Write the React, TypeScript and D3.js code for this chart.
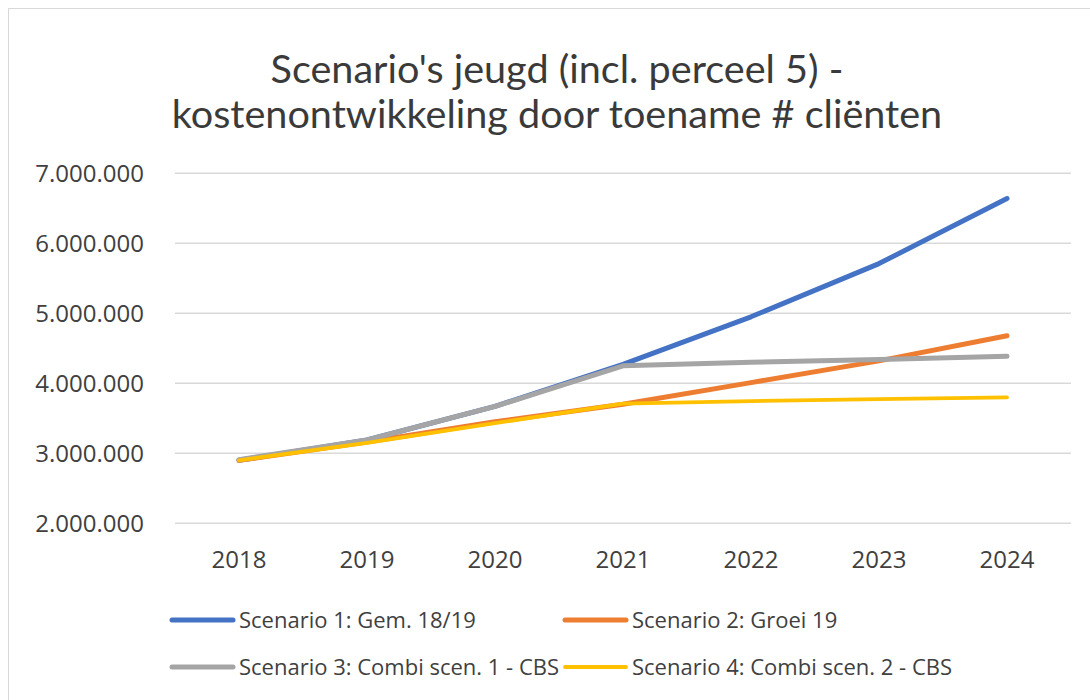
import React, { useEffect } from "react";
import * as d3 from "d3";

const years = ["2018", "2019", "2020", "2021", "2022", "2023", "2024"];
const scenario1 = [2900000, 3190000, 3670000, 4270000, 4950000, 5710000, 6640000];
const scenario2 = [2900000, 3160000, 3450000, 3700000, 4010000, 4320000, 4680000];
const scenario3 = [2910000, 3190000, 3670000, 4250000, 4300000, 4340000, 4385000];
const scenario4 = [2900000, 3150000, 3430000, 3710000, 3745000, 3775000, 3800000];
const seriesNames = [
  "Scenario 1: Gem. 18/19",
  "Scenario 2: Groei 19",
  "Scenario 3: Combi scen. 1 - CBS",
  "Scenario 4: Combi scen. 2 - CBS",
];
const yTicks = [2000000, 3000000, 4000000, 5000000, 6000000, 7000000];
const titleLines = ["Scenario's jeugd (incl. perceel 5) -", "kostenontwikkeling door toename # cliënten"];

const colors = ["#4472C4", "#ED7D31", "#A5A5A5", "#FFC000"];
const widths = [5, 5, 5, 3.8];
const TITLE_FONT = "Lato, 'Open Sans', sans-serif";
const FONT = "'Open Sans', 'Noto Sans', sans-serif";

export default function App() {
  useEffect(() => {
    document.body.style.margin = "0";
  }, []);
  const W = 1090, H = 700;
  const left = 175, right = 1071, top = 173.3, bottom = 523.3;
  const x = d3.scaleBand().domain(years).range([left, right]);
  const y = d3.scaleLinear().domain([2000000, 7000000]).range([bottom, top]);
  const fmt = (v: number) => d3.format(",")(v).replace(/,/g, ".");
  const line = d3
    .line<number>()
    .x((_, i) => (x(years[i]) as number) + x.bandwidth() / 2)
    .y((d) => y(d));
  const data = [scenario1, scenario2, scenario3, scenario4];
  const legendPos = [
    [170, 620],
    [563, 620],
    [170, 667],
    [563, 667],
  ];
  return (
    <svg width={W} height={H} style={{ position: "absolute", left: 0, top: 0 }} fontFamily={FONT}>
      <rect x={0} y={0} width={W} height={H} fill="#fff" />
      <rect x={8.5} y={8.5} width={W + 10} height={H + 10} fill="none" stroke="#d9d9d9" strokeWidth={1} />
      {titleLines.map((t, i) => (
        <text key={i} x={557} y={83 + i * 45} textAnchor="middle" fontSize={39.6} fill="#3a3a3a" fontFamily={TITLE_FONT}>
          {t}
        </text>
      ))}
      {yTicks.map((t) => (
        <g key={t}>
          <line x1={left} x2={right} y1={y(t)} y2={y(t)} stroke="#d9d9d9" strokeWidth={1.5} />
          <text x={144} y={y(t)} dy="0.36em" textAnchor="end" fontSize={24} fill="#404040">
            {fmt(t)}
          </text>
        </g>
      ))}
      {years.map((yr) => (
        <text key={yr} x={(x(yr) as number) + x.bandwidth() / 2} y={568} textAnchor="middle" fontSize={24} fill="#404040">
          {yr}
        </text>
      ))}
      {data.map((d, i) => (
        <path key={i} d={line(d) || ""} fill="none" stroke={colors[i]} strokeWidth={widths[i]} strokeLinecap="round" strokeLinejoin="round" />
      ))}
      {seriesNames.map((n, i) => (
        <g key={n}>
          <line x1={legendPos[i][0] + 2} x2={legendPos[i][0] + 63} y1={legendPos[i][1]} y2={legendPos[i][1]} stroke={colors[i]} strokeWidth={widths[i]} strokeLinecap="round" />
          <text x={legendPos[i][0] + 69} y={legendPos[i][1]} dy="0.36em" fontSize={22} fill="#404040">
            {n}
          </text>
        </g>
      ))}
    </svg>
  );
}
